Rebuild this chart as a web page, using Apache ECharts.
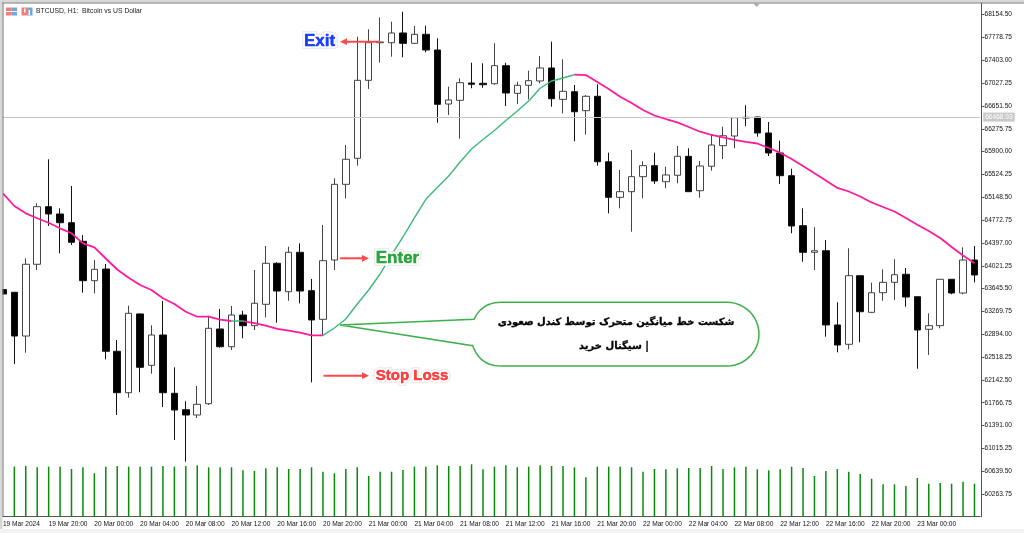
<!DOCTYPE html>
<html>
<head>
<meta charset="utf-8">
<title>BTCUSD H1</title>
<script src="https://cdn.jsdelivr.net/npm/echarts@6/dist/echarts.min.js"></script>
<style>
html, body { margin: 0; padding: 0; background: #fff; }
#chart { width: 1024px; height: 533px; }
</style>
</head>
<body>
<div id="chart"></div>
<script>
// hourly candles, 19 Mar 16:00 to 23 Mar 04:00
let opens = [
	63631, 63585, 62865, 64046, 64994, 64874, 64730, 64424, 63776, 63968,
	62614, 61932, 63228, 62383, 62882, 61922, 61652, 61565, 61751, 62981,
	62689, 63211, 63035, 63387, 64062, 63595, 64243, 63611, 63140, 64116,
	65362, 65790, 67074, 67693, 67693, 67853, 67683, 67831, 67573, 66684,
	66745, 67030, 67025, 67018, 67315, 66860, 66992, 67063, 67277, 66761,
	66887, 66574, 66811, 65734, 65148, 65241, 65488, 65669, 65405, 65511,
	65823, 65257, 65659, 65998, 66157, 66465, 66470, 66207, 65878, 65504,
	64681, 64243, 64269, 63047, 62729, 63858, 63255, 63578, 63749, 63881,
	63512, 62976, 63035, 63799, 63573, 64116
]
let closes = [
	63557, 62865, 64046, 64994, 64874, 64730, 64408, 63776, 63963, 62614,
	61932, 63239, 62350, 62882, 61932, 61647, 61565, 61741, 62992, 62689,
	63211, 63035, 63404, 64062, 63606, 64243, 63606, 63129, 64105, 65362,
	65774, 67074, 67693, 67705, 67853, 67683, 67831, 67573, 66679, 66750,
	67035, 67008, 67002, 67315, 66865, 66992, 67068, 67277, 66771, 66893,
	66557, 66811, 65734, 65148, 65241, 65488, 65669, 65417, 65516, 65823,
	65241, 65664, 66009, 66162, 66459, 66454, 66207, 65878, 65504, 64676,
	64243, 64269, 63047, 62717, 63858, 63265, 63578, 63749, 63874, 63507,
	62964, 63035, 63799, 63573, 64116, 63870
]
let lows = [
	63557, 62405, 62591, 63952, 64676, 64227, 64363, 63578, 63568, 62482,
	61565, 61850, 61939, 62245, 61697, 61154, 60796, 61516, 61730, 62673,
	62635, 62828, 62964, 63173, 63084, 63446, 63404, 62103, 62882, 63952,
	65132, 65669, 66931, 67364, 67463, 67453, 67672, 67535, 66376, 66503,
	66113, 66943, 66952, 67002, 66651, 66684, 66761, 67025, 66640, 66531,
	66070, 66179, 65669, 64885, 64967, 64582, 65132, 65367, 65297, 65379,
	65241, 65142, 65586, 65779, 65955, 66322, 66146, 65828, 65367, 64556,
	64088, 63952, 62854, 62597, 62646, 62762, 63249, 63446, 63458, 63348,
	62327, 62553, 62992, 63552, 63552, 63749
]
let highs = [
	63631, 63590, 64144, 65050, 65774, 64967, 65334, 64528, 64116, 64051,
	62800, 63364, 63239, 63042, 63441, 62350, 61791, 62042, 63200, 63310,
	63359, 63282, 63952, 64347, 64079, 64335, 64391, 63804, 64692, 65461,
	66009, 67792, 67914, 68111, 68039, 68203, 67968, 67973, 67766, 66969,
	67107, 67364, 67354, 67683, 67364, 67051, 67232, 67474, 67710, 67420,
	66997, 66832, 67008, 65883, 65598, 65927, 65741, 65883, 65652, 65993,
	65955, 65746, 66185, 66310, 66459, 66663, 66475, 66388, 66080, 65619,
	64967, 64655, 64446, 63420, 64309, 63858, 63743, 63963, 64128, 63985,
	63512, 63239, 63804, 63799, 64325, 64347
]
let maValues = [
	65214, 65005, 64885, 64803, 64730, 64638, 64556, 64391, 64325, 64141,
	63960, 63825, 63705, 63623, 63486, 63392, 63265, 63183, 63183, 63134,
	63112, 63112, 63079, 63035, 62981, 62953, 62920, 62877, 62877, 62997,
	63145, 63392, 63623, 63886, 64199, 64495, 64808, 65115, 65310, 65499,
	65729, 65943, 66100, 66248, 66413, 66569, 66733, 66943, 67063, 67112,
	67166, 67161, 67046, 66931, 66804, 66701, 66585, 66495, 66437, 66383,
	66306, 66228, 66174, 66133, 66092, 66059, 66034, 65960, 65883, 65779,
	65664, 65543, 65425, 65302, 65244, 65162, 65063, 64989, 64915, 64808,
	64697, 64594, 64478, 64330, 64190, 64062
]
let volumes = [
	null, 500, 507, 494, 500, 500, 477, 494, 434, 500,
	507, 500, 500, 500, 507, 500, 507, 514, 494, 494,
	494, 464, 457, 484, 494, 477, 477, 494, 450, 434,
	477, 494, 407, 450, 450, 467, 500, 500, 514, 507,
	507, 524, 474, 500, 514, 494, 500, 514, 507, 507,
	494, 394, 500, 500, 500, 494, 450, 477, 474, 484,
	487, 487, 507, 477, 494, 500, 474, 464, 474, 500,
	487, 407, 457, 477, 450, 427, 380, 324, 324, 307,
	387, 330, 337, 330, 350, 330
]
let priceTicks = [
	68154.50, 67778.75, 67403.00, 67027.25, 66651.50, 66275.75, 65900.00, 65524.25,
	65148.50, 64772.75, 64397.00, 64021.25, 63645.50, 63269.75, 62894.00, 62518.25,
	62142.50, 61766.75, 61391.00, 61015.25, 60639.50, 60263.75
]
let lastPrice = 66468.93
// [from, to, colour] stretches of the moving average
let maSegments = [
	[0, 20, "#ff1a9c"],
	[20, 21, "#3cb878"],
	[21, 28, "#ff1a9c"],
	[28, 50, "#3cb878"],
	[50, 85, "#ff1a9c"]
]

let categories = opens.map((v, i) => {
	if (i === 0)
		return "19 Mar 2024"
	let h = 16 + i
	let day = 19 + Math.floor(h / 24)
	let hour = h % 24
	return day + " Mar " + (hour < 10 ? "0" : "") + hour + ":00"
})

let font = '"Liberation Sans", Arial, sans-serif'

function maSeries(seg) {
	return {
		type: "line",
		data: maValues.map((v, i) => (i >= seg[0] && i <= seg[1]) ? v : null),
		showSymbol: false,
		silent: true,
		z: 5,
		lineStyle: {color: seg[2], width: seg[2] === "#ff1a9c" ? 1.8 : 1.4}
	}
}

// coloured word with a white halo and a pale glow round it
function tag(text, x, y, color, size) {
	let base = {
		text: text, x: x, y: y,
		fill: color,
		font: "bold " + size + "px " + font,
		align: "center",
		verticalAlign: "middle"
	}
	return [
		{type: "text", z: 58, style: Object.assign({}, base, {stroke: "#ececec", lineWidth: 6})},
		{type: "text", z: 60, style: Object.assign({}, base, {stroke: "#fff", lineWidth: 3.5})},
		{type: "text", z: 61, style: Object.assign({}, base, {stroke: color, lineWidth: 0.3})}
	]
}

function arrow(x1, x2, y) {
	let dir = x2 > x1 ? 1 : -1
	return [{
		type: "line", z: 60,
		shape: {x1: x1, y1: y, x2: x2 - dir * 4, y2: y},
		style: {stroke: "#ff4848", lineWidth: 2}
	}, {
		type: "polygon", z: 60,
		shape: {points: [[x2, y], [x2 - dir * 7, y - 3.4], [x2 - dir * 7, y + 3.4]]},
		style: {fill: "#ff4848"}
	}]
}

// quadratic curve from p0 to p2, control c
function curve(p0, c, p2) {
	let pts = []
	for (let k = 1; k <= 12; k++) {
		let t = k / 12
		pts.push([
			(1 - t) * (1 - t) * p0[0] + 2 * t * (1 - t) * c[0] + t * t * p2[0],
			(1 - t) * (1 - t) * p0[1] + 2 * t * (1 - t) * c[1] + t * t * p2[1]
		])
	}
	return pts
}

function calloutPoints() {
	let pts = [[340, 325], [474, 319.3]]
	pts = pts.concat(curve([474, 319.3], [482, 302.3], [501, 302.3]))
	pts.push([727, 302.3])
	for (let k = 1; k <= 24; k++) {
		let a = -Math.PI / 2 + Math.PI * k / 24
		pts.push([727 + 32 * Math.cos(a), 334.15 + 31.85 * Math.sin(a)])
	}
	pts.push([501, 366])
	pts = pts.concat(curve([501, 366], [480, 366], [472.7, 345.7]))
	return pts
}

function icons() {
	let cell = (x, y, w, h, c) => ({type: "rect", z: 70, shape: {x: x, y: y, width: w, height: h}, style: {fill: c}})
	return [
		cell(6, 7.5, 5.5, 8, "#f08078"), cell(11.5, 7.5, 5.5, 8, "#6fa8d8"), cell(6, 11, 11, 1, "#fff"),
		cell(21.5, 7.5, 5.5, 8, "#f08078"), cell(27, 7.5, 5.5, 8, "#6fa8d8"), cell(24, 8.5, 1.5, 4, "#fff"), cell(28.5, 10, 1.5, 5, "#fff")
	]
}

let chart = echarts.init(document.getElementById("chart"))

let option = {
	animation: false,
	backgroundColor: "#fff",
	grid: {left: -2.8, top: 3, width: 983, height: 513.7, outerBoundsMode: "none"},
	xAxis: {
		type: "category",
		data: categories,
		boundaryGap: true,
		axisLine: {lineStyle: {color: "#555", width: 1}},
		axisTick: {alignWithLabel: true, interval: 3, length: 3, lineStyle: {color: "#555"}},
		axisLabel: {
			interval: 3, align: "left", margin: 4,
			color: "#111", fontSize: 6.6, fontFamily: font, showMinLabel: true, showMaxLabel: false
		},
		splitLine: {show: false}
	},
	yAxis: [{
		type: "value",
		position: "right",
		offset: 1.3,
		min: 59891,
		max: 68346.6,
		scale: true,
		axisLine: {show: true, lineStyle: {color: "#555", width: 1}},
		axisTick: {show: true, length: 3, customValues: priceTicks, lineStyle: {color: "#555"}},
		axisLabel: {
			customValues: priceTicks, margin: 3, padding: [2, 0, 0, 0],
			color: "#111", fontSize: 6.6, fontFamily: font,
			formatter: v => v.toFixed(2)
		},
		splitLine: {show: false}
	}, {
		// tick volume, sits at the foot of the same pane
		type: "value", show: false, min: 0, max: 5137, splitLine: {show: false}
	}],
	series: [{
		type: "bar",
		yAxisIndex: 1,
		data: volumes,
		barWidth: 1.5,
		silent: true,
		z: 1,
		itemStyle: {color: "#0a8a0a"}
	}, {
		type: "candlestick",
		data: opens.map((o, i) => [o, closes[i], lows[i], highs[i]]),
		barWidth: 7,
		z: 3,
		itemStyle: {
			color: "#fff", color0: "#000",
			borderColor: "#444", borderColor0: "#111",
			borderWidth: 1
		},
		markLine: {
			silent: true,
			symbol: "none",
			lineStyle: {color: "#c8c8c8", width: 1, type: "solid"},
			label: {
				position: "end", distance: 3,
				formatter: lastPrice.toFixed(2),
				color: "#fff", backgroundColor: "#c8c8c8",
				padding: [1, 2], fontSize: 6.6, fontFamily: font
			},
			data: [{yAxis: lastPrice}]
		}
	}].concat(maSegments.map(maSeries)),
	graphic: [
		// window frame
		{type: "rect", z: 50, shape: {x: 0, y: 0, width: 1024, height: 2.5}, style: {fill: "#d8d8d8"}},
		{type: "rect", z: 50, shape: {x: 0, y: 2.5, width: 1024, height: 1}, style: {fill: "#777"}},
		{type: "rect", z: 50, shape: {x: 0, y: 0, width: 2.5, height: 533}, style: {fill: "#d8d8d8"}},
		{type: "rect", z: 50, shape: {x: 2.5, y: 2.5, width: 1, height: 514}, style: {fill: "#777"}},
		{type: "rect", z: 50, shape: {x: 0, y: 529, width: 1024, height: 4}, style: {fill: "#f2f2f2"}},
		{type: "polygon", z: 50, shape: {points: [[753.5, 3.5], [760, 3.5], [756.7, 7]]}, style: {fill: "#aaa"}},
		{
			type: "text", z: 70,
			style: {text: "BTCUSD, H1:  Bitcoin vs US Dollar", x: 36, y: 11, fill: "#222", font: "6.8px " + font, verticalAlign: "middle"}
		},
		// annotations
		{
			type: "polygon", z: 55,
			shape: {points: calloutPoints()},
			style: {fill: "#fff", stroke: "#3cb04b", lineWidth: 1.5}
		},
		{
			type: "text", z: 60,
			style: {text: "شکست خط میانگین متحرک توسط کندل صعودی", x: 616, y: 322.7, fill: "#000", stroke: "#000", lineWidth: 0.3, font: 'bold 10px "DejaVu Sans"', align: "center", verticalAlign: "middle"}
		},
		{
			type: "text", z: 60,
			style: {text: "سیگنال خرید |", x: 614, y: 346.7, fill: "#000", stroke: "#000", lineWidth: 0.3, font: 'bold 10px "DejaVu Sans"', align: "center", verticalAlign: "middle"}
		}
	].concat(
		tag("Exit", 319.5, 41, "#1a3fff", 17),
		tag("Enter", 397.5, 258.3, "#2aa63c", 17),
		tag("Stop Loss", 412, 375.7, "#ff4040", 15),
		arrow(380, 340, 41.7), arrow(340, 369, 258.3), arrow(323.5, 369, 375.7), icons()
	)
}

chart.setOption(option)
window.onresize = chart.resize
</script>
</body>
</html>
